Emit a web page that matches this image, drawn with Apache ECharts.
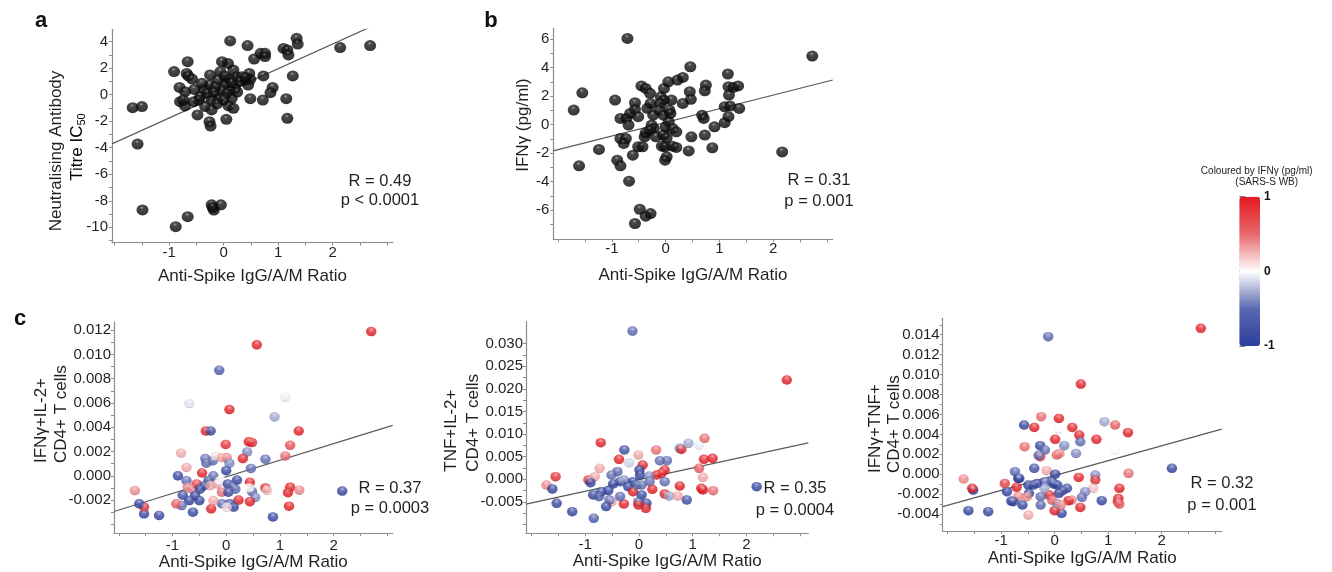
<!DOCTYPE html>
<html><head><meta charset="utf-8">
<script src="https://cdn.jsdelivr.net/npm/echarts@6/dist/echarts.min.js"></script>
<style>html,body{margin:0;padding:0;background:#fff}#c{width:1332px;height:572px}</style>
</head><body><div id="c"></div>
<script>
// ---------- DATA ----------
const xTitle = 'Anti-Spike IgG/A/M Ratio';
const xLabelVals = [-1, 0, 1, 2];
const xTickVals = [-2, -1.5, -1, -0.5, 0, 0.5, 1, 1.5, 2, 2.5, 3];

// Panel a: [ratio, neutralising titre]
const pointsA = [[-1.67,-0.98],[-1.50,-0.90],[-1.58,-3.72],[-1.49,-8.69],[-0.88,-9.95],[-0.66,-9.20],[-0.22,-8.30],[-0.18,-8.70],[-0.20,-8.50],[-0.05,-8.30],
[0.12,4.05],[0.44,3.70],[0.56,2.69],[0.68,3.12],[0.76,3.12],[0.76,2.87],[1.10,3.49],[1.17,3.37],[1.19,3.00],[1.34,4.25],[1.36,3.82],[2.14,3.55],[2.69,3.70],
[1.27,1.41],[1.15,-0.30],[1.17,-1.78],[0.73,1.41],[0.90,0.55],[0.86,0.15],[0.72,-0.40],[0.49,-0.30],[0.47,1.60],[0.49,1.16],[0.45,0.73],[0.39,1.10],[0.18,1.86],[0.24,1.35],[0.33,1.35],[0.21,0.48],[0.12,0.35],[0.15,-0.27],[0.09,-0.85],[0.18,-1.03],[0.05,-1.86],[0.08,2.36],[-0.03,2.49],[-0.06,1.74],[-0.10,1.11],[0.03,0.86],[-0.03,0.35],[0.06,0.10],[-0.10,-0.27],[0.00,-0.40],[-0.22,-0.40],[-0.25,1.49],[-0.25,0.73],[-0.36,0.40],[-0.40,0.86],[-0.43,-0.15],[-0.46,-0.40],[-0.34,-0.90],[-0.22,-1.15],[-0.26,-2.04],[-0.24,-2.37],[-0.48,-1.53],[-0.55,-0.53],[-0.54,0.40],[-0.66,2.49],[-0.68,1.60],[-0.65,1.41],[-0.58,1.18],[-0.91,1.74],[-0.81,0.55],[-0.71,0.23],[-0.80,-0.53],[-0.71,-0.85],[-0.74,-0.40],
[0.10,1.20],[-0.15,0.60],[0.15,0.90],[0.30,1.00],[-0.30,0.10],[0.25,0.20],[-0.12,-0.70],[0.02,1.40],[0.40,1.30],[-0.18,0.20]];
const fitA = [[-2.05,-3.71],[3.11,5.88]];
const yLabelsA = [-10,-8,-6,-4,-2,0,2,4];
const yTicksA = [-11,-10,-9,-8,-7,-6,-5,-4,-3,-2,-1,0,1,2,3,4];

// Panel b: [ratio, IFNγ]
const pointsB = [[-0.71,6.06],[2.73,4.82],[2.17,-1.91],[-1.71,1.03],[-1.55,2.24],[-1.61,-2.89],[-1.24,-1.74],[-0.94,1.73],[-0.90,-2.49],[-0.84,-2.89],[-0.68,-3.97],[-0.48,-5.94],[-0.37,-6.43],[-0.28,-6.24],[-0.57,-6.94],[-0.84,0.44],[-0.73,0.44],[-0.66,0.79],[-0.69,-0.03],[-0.57,1.54],[-0.57,1.07],[-0.51,0.56],[-0.84,-0.97],[-0.74,-0.97],[-0.78,-1.32],[-0.61,-2.14],[-0.51,-1.55],[-0.43,-1.55],[-0.45,2.72],[-0.37,2.55],[-0.29,2.20],[-0.34,1.14],[-0.28,1.49],[-0.23,0.67],[-0.39,-0.85],[-0.37,-0.57],[-0.26,-0.03],[-0.22,-0.26],[-0.29,-0.38],[-0.18,-0.85],[-0.09,1.96],[-0.03,1.73],[-0.10,1.49],[-0.12,1.03],[-0.04,0.67],[-0.07,-1.51],[-0.01,-1.55],[0.02,-2.26],[-0.01,-2.49],[-0.04,-0.73],[0.02,-0.90],[-0.03,2.55],[0.05,3.01],[0.00,-0.15],[0.06,0.20],[0.07,1.03],[0.09,0.79],[0.11,1.73],[0.13,-0.26],[0.20,-0.50],[0.13,-1.51],[0.20,-1.60],[0.22,3.13],[0.32,3.32],[0.32,1.49],[0.45,2.32],[0.47,1.78],[0.46,4.07],[0.43,-1.84],[0.48,-0.85],[0.68,0.67],[0.71,0.44],[0.75,2.78],[0.73,2.38],[0.73,-0.73],[0.91,-0.15],[0.87,-1.62],[1.10,1.26],[1.20,1.31],[1.10,0.14],[1.16,3.56],[1.17,2.67],[1.26,2.62],[1.35,2.72],[1.18,2.08],[1.17,0.56],[1.37,1.14]];
const fitB = [[-2.09,-1.84],[3.11,3.14]];
const yLabelsB = [-6,-4,-2,0,2,4,6];
const yTicksB = [-7,-6,-5,-4,-3,-2,-1,0,1,2,3,4,5,6];

// Panel c: [ratio, frequency, IFNγ colour value]
const pointsC1 = [[2.70,0.01188,1],[0.57,0.01079,1],[-0.13,0.00869,-0.7],[-0.69,0.00595,-0.1],[0.06,0.00546,1],[1.10,0.0065,-0.05],[0.90,0.00486,-0.3],[-0.38,0.00369,1],[-0.29,0.00369,-0.9],[-0.01,0.00258,0.9],[0.42,0.0028,1],[0.48,0.00274,0.9],[1.35,0.00369,1],[1.19,0.00251,0.7],[-0.84,0.00186,0.3],[0.39,0.00197,-0.4],[0.73,0.00137,-0.5],[1.10,0.00164,0.5],[0.31,0.00142,1],[-0.74,0.00069,0.3],[-0.90,0.0,-1],[-0.45,0.00023,1],[-0.39,0.00142,-0.5],[-0.37,0.00104,-0.5],[-0.25,0.00123,-0.5],[-0.19,0.00164,0.1],[-0.08,0.0015,0.3],[0.01,0.0015,0.4],[0.06,0.00104,-0.4],[0.0,0.00042,-1],[0.46,0.00061,-0.5],[-0.74,-0.0004,-0.5],[-0.72,-0.00094,0.4],[-0.64,-0.00108,0.4],[-0.81,-0.0016,-0.9],[-0.55,-0.00067,0.8],[-0.49,-0.0011,-0.9],[-0.41,-0.00082,-0.9],[-0.33,-0.0004,-0.9],[-0.24,0.0,-0.5],[-0.29,-0.0008,0.3],[-0.17,-0.00067,0.3],[-0.11,-0.0004,0],[-0.08,-0.00135,0.5],[0.03,-0.00067,-1],[0.04,-0.00135,-0.9],[0.12,-0.00086,-0.6],[0.20,-0.00035,-1],[0.17,-0.0011,-0.5],[0.44,-0.00054,1],[0.48,-0.0013,-0.5],[0.54,-0.00177,-0.4],[0.42,-0.001,0],[0.73,-0.001,1],[0.76,-0.0012,0.2],[1.15,-0.00139,1],[1.19,-0.00094,1],[1.36,-0.00118,0.4],[2.16,-0.00126,-1],[1.17,-0.0025,1],[0.87,-0.00339,-1],[0.44,-0.00213,1],[0.23,-0.002,1],[0.14,-0.00258,-1],[0.07,-0.0023,-1],[-0.08,-0.0023,-0.6],[0.01,-0.00258,0.1],[-0.28,-0.00272,1],[-0.24,-0.00204,0.3],[-0.50,-0.00204,-1],[-0.58,-0.00164,-1],[-0.69,-0.00204,-1],[-0.62,-0.003,-1],[-0.83,-0.00245,-0.5],[-0.93,-0.00231,0.6],[-1.25,-0.00326,-1],[-1.53,-0.00313,-1],[-1.53,-0.00258,0.9],[-1.62,-0.00231,-1],[-1.70,-0.00122,0.4]];
const fitC1 = [[-2.09,-0.00294],[3.10,0.00416]];
const yLabelsC1 = [-0.002,0,0.002,0.004,0.006,0.008,0.010,0.012];
const yTicksC1 = [-0.004,-0.003,-0.002,-0.001,0,0.001,0.002,0.003,0.004,0.005,0.006,0.007,0.008,0.009,0.010,0.011,0.012];

const pointsC2 = [[-0.12,0.03278,-0.6],[2.75,0.02195,1],[-0.71,0.0081,1],[-0.27,0.00648,-0.9],[0.32,0.00648,0.5],[0.76,0.00684,-0.4],[0.79,0.0066,0.9],[0.92,0.00795,-0.3],[1.12,0.00758,-0.05],[1.22,0.00906,0.5],[-0.37,0.00441,1],[-0.01,0.00537,0.3],[-0.18,0.00367,-0.15],[0.39,0.00411,-0.5],[0.52,0.00411,-0.5],[1.21,0.00441,1],[1.37,0.00464,1],[-0.73,0.00242,0.3],[0.07,0.00316,1],[0.48,0.00205,1],[0.42,0.00132,0.9],[0.33,0.00095,1],[1.12,0.00242,0.6],[1.19,0.00043,0.3],[-1.55,0.00058,0.9],[-1.72,-0.00126,0.4],[-1.61,-0.00214,-1],[-1.53,-0.00531,-1],[-1.24,-0.00715,-1],[-0.94,-0.00015,0.8],[-0.82,0.00058,0.3],[-0.90,-0.00074,-1],[-0.85,-0.00346,-1],[-0.74,-0.00383,-0.7],[-0.68,-0.00111,0],[-0.70,-0.00273,-0.9],[-0.57,-0.00251,-1],[-0.51,0.00095,-0.5],[-0.48,-0.00104,-1],[-0.40,0.00169,-0.6],[-0.35,-0.00052,-0.9],[-0.28,-0.00015,-0.4],[-0.51,-0.00494,0.3],[-0.55,-0.00457,-0.5],[-0.61,-0.00604,-1],[-0.28,-0.00545,1],[-0.35,-0.00383,-0.6],[-0.84,-0.00862,-0.7],[-0.20,-0.00162,-1],[-0.11,-0.00273,1],[-0.11,-0.00052,-1],[0.02,0.00095,-1],[0.01,0.00206,-1],[-0.04,-0.00126,-0.6],[0.05,-0.00126,-0.5],[-0.01,-0.00494,-0.5],[0.05,-0.00346,-1],[0.14,-0.00531,-1],[0.13,-0.00641,1],[-0.01,-0.00567,1],[0.20,-0.00052,-0.5],[0.19,0.00073,-0.4],[0.25,-0.00221,1],[0.48,-0.00052,-0.5],[0.48,-0.00324,1],[0.56,-0.00368,-0.3],[0.72,-0.00368,0.3],[0.76,-0.00148,1],[0.89,-0.00457,-0.9],[1.16,-0.00199,1],[1.19,-0.00236,1],[1.38,-0.00251,0.5],[2.19,-0.00164,-1]];
const fitC2 = [[-2.10,-0.00549],[3.15,0.00806]];
const yLabelsC2 = [-0.005,0,0.005,0.010,0.015,0.020,0.025,0.030];
const yTicksC2 = [-0.010,-0.0075,-0.005,-0.0025,0,0.0025,0.005,0.0075,0.010,0.0125,0.015,0.0175,0.020,0.0225,0.025,0.0275,0.030];

const pointsC3 = [[2.73,0.01464,1],[-0.12,0.01381,-0.6],[0.49,0.00905,1],[-0.25,0.00577,0.5],[0.08,0.0056,1],[-0.57,0.00494,-1],[-0.38,0.0047,1],[0.07,0.00456,0],[0.33,0.0047,1],[0.93,0.00527,-0.3],[1.13,0.00494,0.6],[1.37,0.00417,1],[0.46,0.00393,1],[0.48,0.00326,-0.5],[0.01,0.0035,1],[0.78,0.0035,1],[-0.56,0.00276,0.5],[-0.27,0.00286,-1],[-0.18,0.00243,-0.5],[0.18,0.00286,-0.4],[0.09,0.00209,0.4],[0.04,0.00193,0.5],[-0.27,0.00176,0.8],[-0.30,0.0019,-0.5],[0.40,0.00209,-0.4],[1.13,0.00249,0],[2.19,0.00059,-1],[1.38,0.00009,0.5],[-0.38,0.00059,-0.9],[-0.74,0.00025,-0.6],[-0.68,-0.00042,-1],[-0.15,0.00035,0.3],[0.04,0.00059,0],[0.01,0.0,-1],[0.45,-0.00032,1],[0.76,-0.00008,-0.4],[0.76,-0.00058,0.9],[0.72,-0.00142,0.2],[0.57,-0.00175,-0.4],[0.51,-0.00232,-0.5],[1.21,-0.00142,1],[1.19,-0.00243,1],[1.18,-0.00276,0.9],[1.21,-0.003,0.6],[0.88,-0.00266,-1],[0.48,-0.00333,1],[0.32,-0.00259,0.4],[0.26,-0.00266,1],[0.13,-0.00393,-1],[0.0,-0.00366,1],[0.04,-0.00293,-0.4],[0.12,-0.00309,0.4],[0.08,-0.00192,-1],[0.15,-0.00166,-0.8],[0.23,-0.00142,-0.9],[-0.05,-0.00075,-1],[-0.02,-0.00098,-0.9],[0.05,-0.00109,-1],[-0.10,-0.00209,1],[-0.05,-0.00259,0.5],[-0.18,-0.00075,-0.5],[-0.19,-0.00142,-0.3],[-0.26,-0.00226,-0.5],[-0.26,-0.00309,-0.6],[-0.33,-0.00092,-1],[-0.40,-0.00109,-0.9],[-0.49,-0.00109,-1],[-0.48,-0.00192,-1],[-0.52,-0.00226,0.4],[-0.49,-0.0041,0.3],[-0.60,-0.00309,-1],[-0.66,-0.00042,-1],[-0.71,-0.00132,1],[-0.68,-0.00226,0.4],[-0.77,-0.00276,-0.8],[-0.81,-0.0027,-1],[-0.89,-0.00175,-1],[-0.93,-0.00092,0.8],[-1.24,-0.00376,-1],[-1.61,-0.00366,-1],[-1.52,-0.00159,-1],[-1.54,-0.00142,1],[-1.70,-0.00048,0.4]];
const fitC3 = [[-2.09,-0.00326],[3.12,0.00452]];
const yLabelsC3 = [-0.004,-0.002,0,0.002,0.004,0.006,0.008,0.010,0.012,0.014];
const yTicksC3 = [-0.005,-0.004,-0.003,-0.002,-0.001,0,0.001,0.002,0.003,0.004,0.005,0.006,0.007,0.008,0.009,0.010,0.011,0.012,0.013,0.014,0.015];

const statsText = [['R = 0.49','p < 0.0001'],['R = 0.31','p = 0.001'],['R = 0.37','p = 0.0003'],['R = 0.35','p = 0.0004'],['R = 0.32','p = 0.001']];
const colorbarLabels = [-1, 0, 1];

// ---------- STYLE / LAYOUT ----------
const FONT = '"Liberation Sans", Arial, Helvetica, sans-serif';
const TXT = '#231f20';
const AX = '#8c8c8c';
const panels = [
  {grid:{left:112, top:29.3, width:281, height:213.4}, xr:[-2.05,3.11], yr:[-11.16,4.93], yl:yLabelsA, yt:yTicksA, dec:0, nameGap:25, xm:3, ym:4},
  {grid:{left:553.3, top:28.3, width:279.4, height:211}, xr:[-2.09,3.11], yr:[-8.05,6.77], yl:yLabelsB, yt:yTicksB, dec:0, nameGap:28, xm:2, ym:4},
  {grid:{left:114, top:322, width:278.7, height:212.5}, xr:[-2.09,3.10], yr:[-0.00472,0.01267], yl:yLabelsC1, yt:yTicksC1, dec:3, nameGap:19, xm:5, ym:3},
  {grid:{left:526, top:321.7, width:282.3, height:211.6}, xr:[-2.10,3.15], yr:[-0.01194,0.03484], yl:yLabelsC2, yt:yTicksC2, dec:3, nameGap:20, xm:4, ym:3},
  {grid:{left:942.7, top:318.3, width:279, height:212.7}, xr:[-2.09,3.12], yr:[-0.0057,0.01565], yl:yLabelsC3, yt:yTicksC3, dec:3, nameGap:18.5, xm:2, ym:3}
];

const grids = panels.map(p => p.grid).concat([{left:1239.3, top:196.7, width:20.7, height:149.3}]);
const xAxes = panels.map((p,i) => ({
  type:'value', gridIndex:i, min:p.xr[0], max:p.xr[1],
  name:xTitle, nameLocation:'middle', nameGap:p.nameGap,
  nameTextStyle:{fontFamily:FONT, fontSize:17, color:TXT},
  axisLine:{show:true, onZero:false, lineStyle:{color:AX, width:1.2}},
  axisTick:{show:true, customValues:xTickVals, length:3, lineStyle:{color:AX}},
  axisLabel:{customValues:xLabelVals, margin:p.xm, fontFamily:FONT, fontSize:15, color:TXT, formatter:v=>String(v)},
  splitLine:{show:false}
})).concat([{type:'value', gridIndex:5, min:0, max:1, show:false}]);
const yAxes = panels.map((p,i) => ({
  type:'value', gridIndex:i, min:p.yr[0], max:p.yr[1],
  axisLine:{show:true, onZero:false, lineStyle:{color:AX, width:1.2}},
  axisTick:{show:true, customValues:p.yt, length:3, lineStyle:{color:AX}},
  axisLabel:{customValues:p.yl, margin:p.ym, fontFamily:FONT, fontSize:15, color:TXT, formatter:v=>v.toFixed(p.dec)},
  splitLine:{show:false}
})).concat([{
  type:'value', gridIndex:5, min:-1, max:1, interval:0.5, position:'right',
  axisLine:{show:false},
  axisTick:{show:true, length:6, lineStyle:{color:'#777'}},
  minorTick:{show:true, splitNumber:5, length:3, lineStyle:{color:'#777'}},
  axisLabel:{margin:4, fontFamily:FONT, fontSize:12, fontWeight:'bold', color:'#111',
    formatter:v => colorbarLabels.indexOf(v) >= 0 ? String(v) : ''},
  splitLine:{show:false}
}]);

const blackBall = {type:'radial', x:0.45, y:0.3, r:0.7, colorStops:[{offset:0,color:'#8a8a8a'},{offset:0.22,color:'#1c1c1c'},{offset:1,color:'#000'}]};
const shine = {type:'radial', x:0.5, y:0.28, r:0.75, colorStops:[{offset:0,color:'rgba(255,255,255,0.6)'},{offset:0.35,color:'rgba(255,255,255,0.12)'},{offset:0.75,color:'rgba(0,0,0,0)'},{offset:1,color:'rgba(0,0,0,0.3)'}]};

function fitSeries(gi, data){
  return {type:'line', xAxisIndex:gi, yAxisIndex:gi, data, symbol:'none', clip:true, z:1, silent:true,
    lineStyle:{color:'#5a5a5a', width:1.2}};
}
const series = [];
series.push({type:'scatter', xAxisIndex:0, yAxisIndex:0, data:pointsA, symbolSize:[12,11], z:2, itemStyle:{color:blackBall}});
series.push(fitSeries(0, fitA));
series.push({type:'scatter', xAxisIndex:1, yAxisIndex:1, data:pointsB, symbolSize:[12,11], z:2, itemStyle:{color:blackBall}});
series.push(fitSeries(1, fitB));
const cSets = [pointsC1, pointsC2, pointsC3];
const cFits = [fitC1, fitC2, fitC3];
const colouredIdx = [];
cSets.forEach((pts, k) => {
  const gi = k + 2;
  colouredIdx.push(series.length);
  series.push({type:'scatter', xAxisIndex:gi, yAxisIndex:gi, data:pts, symbolSize:[10.5,9.5], z:2});
  series.push({type:'scatter', xAxisIndex:gi, yAxisIndex:gi, data:pts, symbolSize:[10.5,9.5], z:3, silent:true, itemStyle:{color:shine}});
  series.push(fitSeries(gi, cFits[k]));
});
series.push({type:'scatter', xAxisIndex:5, yAxisIndex:5, data:[], silent:true});

function txt(x, y, text, size, opts){
  return Object.assign({type:'text', x, y, style:Object.assign({text, fontFamily:FONT, fontSize:size, fill:TXT, textAlign:'center', textVerticalAlign:'middle'}, opts||{})});
}
function vtxt(x, y, text, align, rich){
  return {type:'text', x, y, rotation:Math.PI/2,
    style:{text, fontFamily:FONT, fontSize:17, fill:TXT, textAlign:align, textVerticalAlign:'middle', rich}};
}
const statPos = [[380,181,200],[819,180,201.7],[390,488.3,508.3],[795,488.3,510],[1222,483.3,505]];
const graphics = [
  txt(41, 21, 'a', 22, {fontWeight:'bold', fill:'#111'}),
  txt(491, 21, 'b', 22, {fontWeight:'bold', fill:'#111'}),
  txt(20, 319, 'c', 22, {fontWeight:'bold', fill:'#111'}),
  vtxt(56, 151, 'Neutralising Antibody', 'center'),
  {type:'text', x:77, y:147, rotation:Math.PI/2, style:{text:'{n|Titre IC}{s|50}', fontFamily:FONT, textAlign:'center', textVerticalAlign:'middle',
    rich:{n:{fontFamily:FONT, fontSize:17, color:TXT, lineHeight:20}, s:{fontFamily:FONT, fontSize:11, color:TXT, lineHeight:11, verticalAlign:'bottom'}}}},
  vtxt(523.3, 125, 'IFNγ (pg/ml)', 'center'),
  vtxt(41.7, 463, 'IFNγ+IL-2+', 'left'),
  vtxt(61.7, 463, 'CD4+ T cells', 'left'),
  vtxt(451.7, 471.7, 'TNF+IL-2+', 'left'),
  vtxt(473.3, 471.7, 'CD4+ T cells', 'left'),
  vtxt(875, 473, 'IFNγ+TNF+', 'left'),
  vtxt(894.3, 473, 'CD4+ T cells', 'left'),
  txt(1256.7, 171, 'Coloured by IFNγ (pg/ml)', 10, {fill:'#222'}),
  txt(1266.7, 182, '(SARS-S WB)', 10, {fill:'#222'})
];
statPos.forEach((p,i) => {
  graphics.push(txt(p[0], p[1], statsText[i][0], 16.5));
  graphics.push(txt(p[0], p[2], statsText[i][1], 16.5));
});

const chart = echarts.init(document.getElementById('c'), null, {renderer:'canvas'});
chart.setOption({
  animation:false,
  backgroundColor:'#fff',
  grid:grids,
  xAxis:xAxes,
  yAxis:yAxes,
  visualMap:[{
    type:'continuous', min:-1, max:1, dimension:2, seriesIndex:colouredIdx,
    left:1239.3, top:196.7, itemWidth:20.7, itemHeight:149.3, padding:0,
    calculable:false, realtime:false, text:null, showLabel:false, orient:'vertical',
    inRange:{color:['#2d3f9c','#5a68b0','#ffffff','#e8676a','#e3191f']},
    textStyle:{color:'transparent'}
  }],
  series,
  graphic:graphics
});
</script></body></html>
